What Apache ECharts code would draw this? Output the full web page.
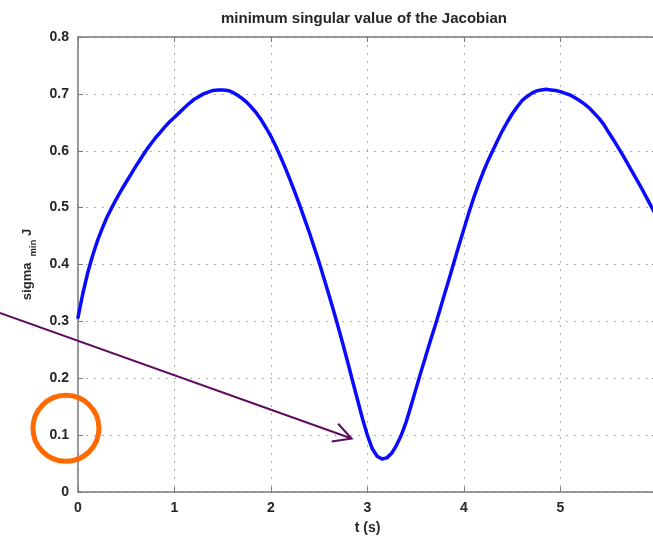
<!DOCTYPE html>
<html>
<head>
<meta charset="utf-8">
<title>minimum singular value of the Jacobian</title>
<script src="https://cdn.jsdelivr.net/npm/echarts@6/dist/echarts.min.js"></script>
<style>
    html, body { margin: 0; padding: 0; background: #fff; }
    #main { width: 653px; height: 536px; }
</style>
</head>
<body>
<div id="main"></div>
<script type="text/javascript">
    // samples every 0.05 s: t in seconds, sigma_min of J
    var tValues = [
        0.00, 0.05, 0.10, 0.15, 0.20, 0.25, 0.30, 0.35, 0.40, 0.45,
        0.50, 0.55, 0.60, 0.65, 0.70, 0.75, 0.80, 0.85, 0.90, 0.95,
        1.00, 1.05, 1.10, 1.15, 1.20, 1.25, 1.30, 1.35, 1.40, 1.45,
        1.50, 1.55, 1.60, 1.65, 1.70, 1.75, 1.80, 1.85, 1.90, 1.95,
        2.00, 2.05, 2.10, 2.15, 2.20, 2.25, 2.30, 2.35, 2.40, 2.45,
        2.50, 2.55, 2.60, 2.65, 2.70, 2.75, 2.80, 2.85, 2.90, 2.95,
        3.00, 3.05, 3.10, 3.15, 3.20, 3.25, 3.30, 3.35, 3.40, 3.45,
        3.50, 3.55, 3.60, 3.65, 3.70, 3.75, 3.80, 3.85, 3.90, 3.95,
        4.00, 4.05, 4.10, 4.15, 4.20, 4.25, 4.30, 4.35, 4.40, 4.45,
        4.50, 4.55, 4.60, 4.65, 4.70, 4.75, 4.80, 4.85, 4.90, 4.95,
        5.00, 5.05, 5.10, 5.15, 5.20, 5.25, 5.30, 5.35, 5.40, 5.45,
        5.50, 5.55, 5.60, 5.65, 5.70, 5.75, 5.80, 5.85, 5.90, 5.95,
        6.00
    ];
    var sigmaValues = [
        0.307, 0.349, 0.385, 0.415, 0.441, 0.463, 0.483, 0.500, 0.516, 0.531,
        0.545, 0.559, 0.573, 0.586, 0.599, 0.611, 0.622, 0.632, 0.642, 0.651,
        0.659, 0.667, 0.675, 0.683, 0.690, 0.695, 0.700, 0.703, 0.706, 0.707,
        0.707, 0.706, 0.703, 0.698, 0.692, 0.685, 0.676, 0.666, 0.654, 0.640,
        0.625, 0.608, 0.589, 0.569, 0.548, 0.526, 0.503, 0.479, 0.455, 0.429,
        0.403, 0.375, 0.347, 0.318, 0.288, 0.257, 0.225, 0.192, 0.160, 0.128,
        0.099, 0.076, 0.063, 0.058, 0.060, 0.068, 0.082, 0.100, 0.123, 0.151,
        0.180, 0.209, 0.237, 0.265, 0.292, 0.320, 0.349, 0.377, 0.406, 0.435,
        0.463, 0.491, 0.517, 0.541, 0.563, 0.583, 0.601, 0.619, 0.636, 0.651,
        0.665, 0.677, 0.688, 0.695, 0.701, 0.705, 0.707, 0.708, 0.707, 0.706,
        0.704, 0.701, 0.698, 0.693, 0.688, 0.682, 0.675, 0.666, 0.657, 0.646,
        0.632, 0.619, 0.605, 0.591, 0.576, 0.561, 0.546, 0.531, 0.515, 0.499,
        0.483
    ];

    var xTickLabels = ['0', '1', '2', '3', '4', '5', '6'];
    var yTickLabels = ['0', '0.1', '0.2', '0.3', '0.4', '0.5', '0.6', '0.7', '0.8'];

    // annotations, in data units (arrow from the left edge to the dip, ring round the 0.1 label)
    var arrowFrom = [-0.81, 0.315];
    var arrowTo = [2.835, 0.094];
    var ringCenter = [-0.125, 0.112];

    var fontFam = '"Liberation Sans", Arial, Helvetica, sans-serif';
    var axisGray = '#7a7a7a';
    var textColor = '#262626';

    var myChart = echarts.init(document.getElementById('main'));

    var lineData = [];
    for (var i = 0; i < tValues.length; i++) {
        lineData.push([tValues[i], sigmaValues[i]]);
    }

    // top / right edges of the box: ticks only
    function boxAxis(pos, min, max, step) {
        return {
            type: 'value', position: pos, min: min, max: max, interval: step,
            axisLine: {show: true, onZero: false, lineStyle: {color: axisGray, width: 1.5}},
            axisTick: {show: true, inside: true, length: 5, lineStyle: {color: axisGray}},
            axisLabel: {show: false},
            splitLine: {show: false}
        };
    }

    myChart.setOption({
        animation: false,
        title: {
            text: 'minimum singular value of the Jacobian',
            left: 221, top: 11, padding: 0,
            textStyle: {fontFamily: fontFam, fontWeight: 'bold', fontSize: 15, color: textColor}
        },
        grid: {left: 78, right: -4, top: 37, bottom: 44, containLabel: false, outerBoundsMode: 'none'},
        xAxis: [{
            type: 'value', position: 'bottom', min: 0, max: 6, interval: 1,
            name: 't (s)', nameLocation: 'middle', nameGap: 29,
            nameTextStyle: {fontFamily: fontFam, fontWeight: 'bold', fontSize: 14, color: textColor},
            axisLine: {show: true, onZero: false, lineStyle: {color: axisGray, width: 1.5}},
            axisTick: {show: true, inside: true, length: 5, lineStyle: {color: axisGray}},
            axisLabel: {
                margin: 9, fontFamily: fontFam, fontWeight: 'bold', fontSize: 14, color: textColor,
                formatter: function (v) { return xTickLabels[Math.round(v)]; }
            },
            splitLine: {show: true, lineStyle: {color: '#b0b0b0', width: 1, type: [2, 6]}}
        }, boxAxis('top', 0, 6, 1)],
        yAxis: [{
            type: 'value', position: 'left', min: 0, max: 0.8, interval: 0.1,
            name: '{s|sigma}{m|min}{s| J}', nameLocation: 'middle', nameGap: 41, nameRotate: 90,
            nameTextStyle: {
                rich: {
                    s: {fontFamily: fontFam, fontWeight: 'bold', fontSize: 13, color: textColor,
                        verticalAlign: 'top', lineHeight: 15},
                    m: {fontFamily: fontFam, fontWeight: 'bold', fontSize: 9.5, color: textColor,
                        verticalAlign: 'top', lineHeight: 11, padding: [8, 0, 0, 6]}
                }
            },
            axisLine: {show: true, onZero: false, lineStyle: {color: axisGray, width: 1.5}},
            axisTick: {show: true, inside: true, length: 5, lineStyle: {color: axisGray}},
            axisLabel: {
                margin: 9, fontFamily: fontFam, fontWeight: 'bold', fontSize: 14, color: textColor,
                formatter: function (v) { return yTickLabels[Math.round(v * 10)]; }
            },
            splitLine: {show: true, lineStyle: {color: '#b0b0b0', width: 1, type: [2, 6]}}
        }, boxAxis('right', 0, 0.8, 0.1)],
        series: [{
            type: 'line',
            xAxisIndex: 0, yAxisIndex: 0,
            data: lineData,
            showSymbol: false,
            smooth: false,
            lineStyle: {color: '#0a0aff', width: 3.5, join: 'round', cap: 'round'}
        }]
    });

    // arrow + ring drawn on top, placed through the grid's own scales
    var a = myChart.convertToPixel({gridIndex: 0}, arrowFrom);
    var b = myChart.convertToPixel({gridIndex: 0}, arrowTo);
    var c = myChart.convertToPixel({gridIndex: 0}, ringCenter);
    var ang = Math.atan2(b[1] - a[1], b[0] - a[0]);
    var headLen = 20, headAng = 28 * Math.PI / 180;
    var w1 = [b[0] - headLen * Math.cos(ang - headAng), b[1] - headLen * Math.sin(ang - headAng)];
    var w2 = [b[0] - headLen * Math.cos(ang + headAng), b[1] - headLen * Math.sin(ang + headAng)];
    var purple = '#5e0a60';

    myChart.setOption({
        graphic: [
            {type: 'line', z: 100, shape: {x1: a[0], y1: a[1], x2: b[0], y2: b[1]},
             style: {stroke: purple, lineWidth: 2}},
            {type: 'polyline', z: 100, shape: {points: [w1, b, w2]},
             style: {stroke: purple, lineWidth: 2, fill: null}},
            {type: 'circle', z: 100, shape: {cx: c[0], cy: c[1], r: 33},
             style: {stroke: '#ff6a00', lineWidth: 5, fill: null}}
        ]
    });
</script>
</body>
</html>
